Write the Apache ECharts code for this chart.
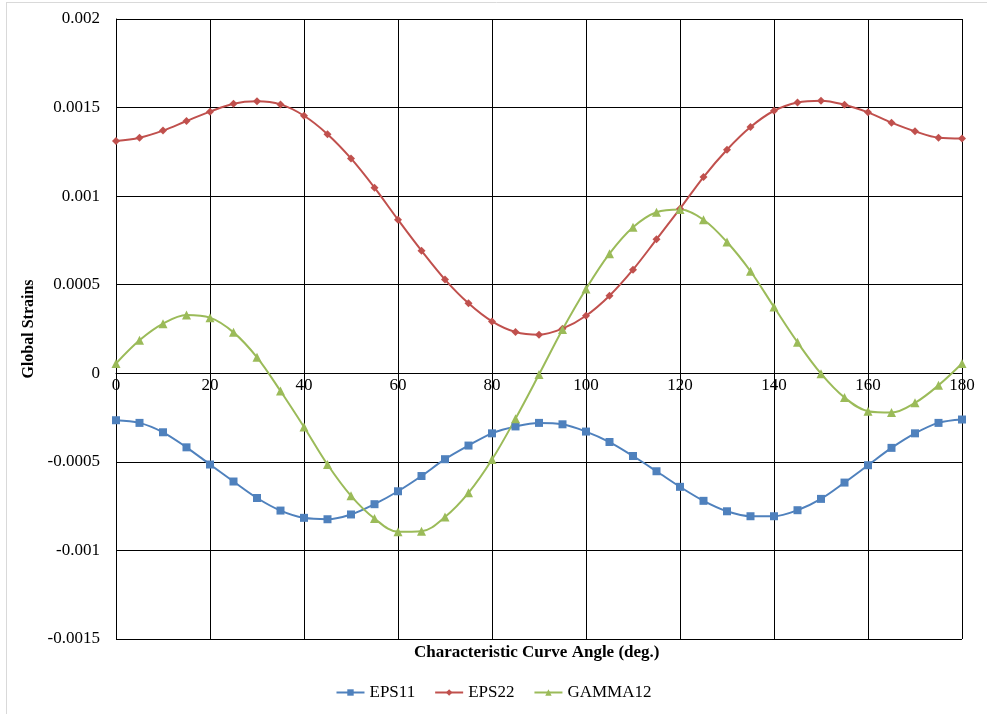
<!DOCTYPE html>
<html><head><meta charset="utf-8">
<script src="https://cdn.jsdelivr.net/npm/echarts@6/dist/echarts.min.js"></script>
<style>html,body{margin:0;padding:0;background:#fff}#c{width:987px;height:714px}</style>
</head><body><div id="c"></div>
<script>
const angles = [0,5,10,15,20,25,30,35,40,45,50,55,60,65,70,75,80,85,90,95,100,105,110,115,120,125,130,135,140,145,150,155,160,165,170,175,180];
const eps11 = [-0.000265,-0.00028,-0.000333,-0.000418,-0.000515,-0.000611,-0.000704,-0.000775,-0.000816,-0.000824,-0.000797,-0.000739,-0.000666,-0.00058,-0.000485,-0.000408,-0.000339,-0.0003,-0.00028,-0.000288,-0.000329,-0.000388,-0.000467,-0.000553,-0.000641,-0.00072,-0.000779,-0.000807,-0.000807,-0.000773,-0.000709,-0.000617,-0.000519,-0.000421,-0.000339,-0.00028,-0.000261];
const eps22 = [0.001311,0.00133,0.00137,0.001424,0.001477,0.001522,0.001535,0.001518,0.001454,0.00135,0.001213,0.001048,0.000867,0.000692,0.000529,0.000395,0.000293,0.000233,0.000218,0.000252,0.000325,0.000438,0.000585,0.000756,0.000929,0.001108,0.001262,0.00139,0.001482,0.001529,0.001539,0.001516,0.001473,0.001415,0.001366,0.00133,0.001326];
const gamma12 = [0.000055,0.000186,0.00028,0.000329,0.000314,0.000231,0.00009,-0.0001,-0.000303,-0.000515,-0.000692,-0.00082,-0.000895,-0.000892,-0.000811,-0.000675,-0.000487,-0.000256,-0.000007,0.000247,0.000476,0.000675,0.000824,0.000909,0.000924,0.000867,0.000741,0.000576,0.000374,0.000175,-0.000002,-0.000137,-0.000214,-0.000222,-0.000167,-0.000068,0.000055];
const seriesNames = ['EPS11','EPS22','GAMMA12'];
const xTitle = 'Characteristic Curve Angle (deg.)';
const yTitle = 'Global Strains';
const yMin = -0.0015, yMax = 0.002;

const font = 'Liberation Serif';
const gridTop = 19, gridBottom = 75, H = 714;
const plotH = H - gridTop - gridBottom;
const zeroOffset = -plotH * (0 - yMin) / (yMax - yMin);
const chart = echarts.init(document.getElementById('c'));
const pair = arr => angles.map((a,i)=>[a,arr[i]]);
function mk(name, data, color, symbol, size){
  return {name, type:'line', data:pair(data), smooth:0.35, symbol, symbolSize:size,
    showAllSymbol:true, lineStyle:{color, width:2}, itemStyle:{color}, z:3};
}
chart.setOption({
  animation:false,
  color:['#4F81BD','#C0504D','#9BBB59'],
  grid:{left:116, right:25, top:gridTop, bottom:gridBottom, containLabel:false},
  xAxis:{type:'value', min:0, max:180, interval:20, position:'bottom', offset:zeroOffset,
    axisLine:{onZero:false, lineStyle:{color:'#000', width:1}},
    axisTick:{show:false},
    axisLabel:{fontFamily:font, fontSize:17, color:'#000', margin:4},
    splitLine:{show:true, lineStyle:{color:'#000', width:1}}},
  yAxis:{type:'value', min:yMin, max:yMax, interval:0.0005,
    name:yTitle, nameLocation:'middle', nameGap:71, nameRotate:90,
    nameTextStyle:{fontFamily:font, fontSize:16, fontWeight:'bold', color:'#000'},
    axisLine:{show:true, onZero:false, lineStyle:{color:'#000', width:1}},
    axisTick:{show:false},
    axisLabel:{fontFamily:font, fontSize:17, color:'#000', margin:16,
      formatter:v=>String(parseFloat(v.toFixed(6)))},
    splitLine:{show:true, lineStyle:{color:'#000', width:1}}},
  legend:{bottom:8, left:'center', itemGap:19, itemWidth:28, itemHeight:8,
    textStyle:{fontFamily:font, fontSize:17, color:'#000'},
    data:seriesNames},
  graphic:[
    {type:'text', left:414, top:644, style:{text:xTitle, fontFamily:font, fontSize:17, fontWeight:'bold', fill:'#000'}},
    {type:'line', shape:{x1:6, y1:2.5, x2:987, y2:2.5}, style:{stroke:'#d9d9d9', lineWidth:1}, silent:true},
    {type:'line', shape:{x1:6.5, y1:2, x2:6.5, y2:714}, style:{stroke:'#d9d9d9', lineWidth:1}, silent:true}
  ],
  series:[mk(seriesNames[0], eps11, '#4F81BD','rect',8),
          mk(seriesNames[1], eps22, '#C0504D','diamond',8),
          mk(seriesNames[2], gamma12, '#9BBB59','triangle',9)]
});
</script></body></html>
